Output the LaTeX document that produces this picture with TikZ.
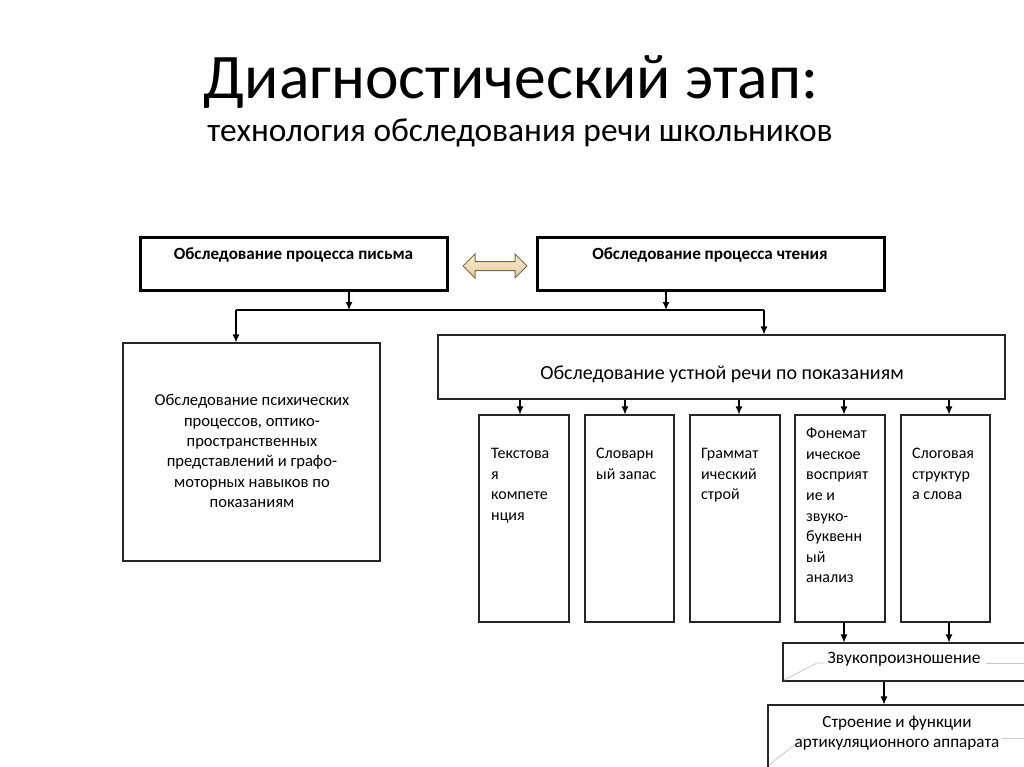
\documentclass[tikz,border=0pt]{standalone}
\usepackage{fontspec}
\setmainfont{Carlito}
\usetikzlibrary{arrows.meta}
\definecolor{arrowfillA}{HTML}{F7EED8}
\definecolor{arrowfillB}{HTML}{E3CC98}
\definecolor{arrowline}{HTML}{7A6A48}
\definecolor{ghost}{HTML}{C8C8C8}
\tikzset{
  thinbox/.style 2 args={draw=black!85, line width=1.1pt, inner sep=0pt, minimum width=#1, minimum height=#2},
  thickbox/.style 2 args={draw=black, line width=3pt, inner sep=0pt, minimum width=#1, minimum height=#2},
  arr/.style={-{Latex[length=8pt,width=7pt]}, line width=1.1pt, black},
  plain/.style={line width=1.1pt, black},
  boxtxt/.style={font=\fontsize{16}{20.6}\selectfont, inner sep=0pt, align=left, anchor=north west},
  ghostline/.style={draw=ghost, line width=0.8pt},
}
\begin{document}
\begin{tikzpicture}[x=1pt,y=-1pt]
\useasboundingbox[fill=white] (0,0) rectangle (1024,767);
\clip (0,0) rectangle (1024,767);

% titles
\node[font=\fontsize{63.5}{70}\selectfont, inner sep=0pt, anchor=base] (t1) at (511,99) {Диагностический этап:};
\node[font=\fontsize{33.4}{40}\selectfont, inner sep=0pt, anchor=base] (t2) at (520,142) {технология обследования речи школьников};

% top boxes
\node[thickbox={307pt}{53pt}] (b1) at (293.5,263.5) {};
\node[font=\bfseries\fontsize{17.1}{20}\selectfont, inner sep=0pt] (b1t) at (293.5,255) {Обследование процесса письма};
\node[thickbox={347pt}{53pt}] (b2) at (710.5,263.5) {};
\node[font=\bfseries\fontsize{17.1}{20}\selectfont, inner sep=0pt] (b2t) at (710,255) {Обследование процесса чтения};

% double arrow
\path[draw=arrowline, line width=1pt, top color=arrowfillA, bottom color=arrowfillB]
  (463,266) -- (475,254) -- (475,261.5) -- (515,261.5) -- (515,254) -- (527,266)
  -- (515,278) -- (515,270.5) -- (475,270.5) -- (475,278) -- cycle;

% junction
\coordinate (j1) at (349,310);
\coordinate (j2) at (666,310);
\coordinate (jl) at (236,310);
\coordinate (jr) at (764,310);

% left box
\node[thinbox={257pt}{218pt}] (L) at (251.5,452) {};
\node[font=\fontsize{16.6}{20.3}\selectfont, inner sep=0pt, align=center] (Lt) at (252,451)
  {Обследование психических\\процессов, оптико-\\пространственных\\представлений и графо-\\моторных навыков по\\показаниям};

% oral box
\node[thinbox={567pt}{64pt}] (O) at (721.5,367) {};
\node[font=\fontsize{20}{22}\selectfont, inner sep=0pt] (Ot) at (722,374) {Обследование устной речи по показаниям};

\draw[arr] (b1.south -| j1) -- (j1);
\draw[arr] (b2.south -| j2) -- (j2);
\draw[plain] (jl) -- (jr);
\draw[arr] (jl) -- (L.north -| jl);
\draw[arr] (jr) -- (O.north -| jr);

% small boxes
\node[thinbox={90pt}{207pt}] (s1) at (524,518.5) {};
\node[thinbox={89pt}{207pt}] (s2) at (629.5,518.5) {};
\node[thinbox={90pt}{207pt}] (s3) at (735,518.5) {};
\node[thinbox={90pt}{207pt}] (s4) at (840,518.5) {};
\node[thinbox={89pt}{207pt}] (s5) at (945.5,518.5) {};

\coordinate (x1) at (520,0);
\coordinate (x2) at (625,0);
\coordinate (x3) at (739,0);
\coordinate (x4) at (844,0);
\coordinate (x5) at (949,0);
\draw[arr] (O.south -| x1) -- (s1.north -| x1);
\draw[arr] (O.south -| x2) -- (s2.north -| x2);
\draw[arr] (O.south -| x3) -- (s3.north -| x3);
\draw[arr] (O.south -| x4) -- (s4.north -| x4);
\draw[arr] (O.south -| x5) -- (s5.north -| x5);

\node[boxtxt] (s1t) at (491,444) {\strut Текстова\\я\\компете\\нция};
\node[boxtxt] (s2t) at (596,444) {\strut Словарн\\ый запас};
\node[boxtxt] (s3t) at (701,444) {\strut Граммат\\ический\\строй};
\node[boxtxt] (s4t) at (806,424) {\strut Фонемат\\ическое\\восприят\\ие и\\звуко-\\буквенн\\ый\\анализ};
\node[boxtxt] (s5t) at (912,444) {\strut Слоговая\\структур\\а слова};

% bottom boxes
\node[thinbox={247pt}{38pt}] (Z) at (906.5,662) {};
\node[thinbox={262pt}{70pt}] (B) at (899,740) {};

% ghost callout lines
\draw[ghostline] (784,680) -- (817,663) -- (825,663);
\draw[ghostline] (986,663) -- (1024,663);
\draw[ghostline] (769,765) -- (803,738) -- (805,738);
\draw[ghostline] (1002,738) -- (1024,738);

\node[font=\fontsize{17.4}{19}\selectfont, inner sep=0pt] (Zt) at (904,659) {Звукопроизношение};
\node[font=\fontsize{17.1}{20.5}\selectfont, inner sep=0pt, align=center] (Bt) at (897,733) {Строение и функции\\артикуляционного аппарата};

\coordinate (x6) at (884,0);
\draw[arr] (s4.south -| x4) -- (Z.north -| x4);
\draw[arr] (s5.south -| x5) -- (Z.north -| x5);
\draw[arr] (Z.south -| x6) -- (B.north -| x6);
\end{tikzpicture}
\end{document}
